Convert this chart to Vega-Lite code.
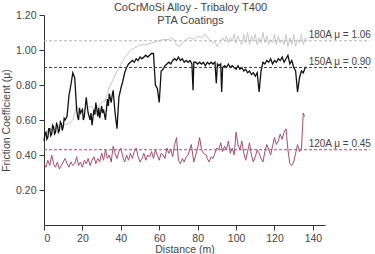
{
"$schema": "https://vega.github.io/schema/vega-lite/v6.json",
"width": 281, "height": 210,
"autosize": {"type": "none"},
"padding": {"left": 44, "top": 15, "right": 50, "bottom": 29},
"background": "white",
"config": {"font": "Liberation Sans", "view": {"stroke": null}},
"title": {"text": ["CoCrMoSi Alloy - Tribaloy T400", "PTA Coatings"], "fontSize": 11, "fontWeight": "normal", "color": "#444", "lineHeight": 13, "offset": -16, "dx": 6, "anchor": "middle"},
"datasets": {
"s120": [
{"d":0,"v":0.35},{"d":1,"v":0.33},{"d":2,"v":0.37},{"d":3,"v":0.34},{"d":4,"v":0.40},{"d":5,"v":0.35},{"d":6,"v":0.33},{"d":7,"v":0.36},{"d":8,"v":0.32},{"d":9,"v":0.34},{"d":10,"v":0.36},{"d":11,"v":0.38},{"d":12,"v":0.35},{"d":13,"v":0.33},{"d":14,"v":0.36},{"d":15,"v":0.34},{"d":16,"v":0.35},{"d":17,"v":0.39},{"d":18,"v":0.34},{"d":19,"v":0.36},{"d":20,"v":0.33},{"d":21,"v":0.37},{"d":22,"v":0.35},{"d":23,"v":0.38},{"d":24,"v":0.34},{"d":25,"v":0.37},{"d":26,"v":0.39},{"d":27,"v":0.35},{"d":28,"v":0.38},{"d":29,"v":0.36},{"d":30,"v":0.41},{"d":31,"v":0.37},{"d":32,"v":0.43},{"d":33,"v":0.38},{"d":34,"v":0.40},{"d":35,"v":0.36},{"d":36,"v":0.45},{"d":37,"v":0.41},{"d":38,"v":0.38},{"d":39,"v":0.42},{"d":40,"v":0.44},{"d":41,"v":0.39},{"d":42,"v":0.36},{"d":43,"v":0.40},{"d":44,"v":0.37},{"d":45,"v":0.41},{"d":46,"v":0.38},{"d":47,"v":0.42},{"d":48,"v":0.44},{"d":49,"v":0.39},{"d":50,"v":0.36},{"d":51,"v":0.38},{"d":52,"v":0.41},{"d":53,"v":0.37},{"d":54,"v":0.40},{"d":55,"v":0.39},{"d":56,"v":0.42},{"d":57,"v":0.38},{"d":58,"v":0.43},{"d":59,"v":0.40},{"d":60,"v":0.37},{"d":61,"v":0.41},{"d":62,"v":0.40},{"d":63,"v":0.38},{"d":64,"v":0.44},{"d":65,"v":0.41},{"d":66,"v":0.43},{"d":67,"v":0.39},{"d":68,"v":0.46},{"d":69,"v":0.50},{"d":70,"v":0.37},{"d":71,"v":0.35},{"d":72,"v":0.38},{"d":73,"v":0.36},{"d":74,"v":0.39},{"d":75,"v":0.40},{"d":76.7,"v":0.46},{"d":78,"v":0.36},{"d":79,"v":0.40},{"d":80,"v":0.44},{"d":81,"v":0.50},{"d":82,"v":0.43},{"d":83,"v":0.41},{"d":84.5,"v":0.40},{"d":85,"v":0.38},{"d":86,"v":0.36},{"d":87,"v":0.39},{"d":88,"v":0.38},{"d":89,"v":0.41},{"d":90,"v":0.44},{"d":91,"v":0.43},{"d":92,"v":0.47},{"d":93,"v":0.42},{"d":94,"v":0.45},{"d":95,"v":0.43},{"d":96,"v":0.48},{"d":97,"v":0.41},{"d":98,"v":0.44},{"d":99,"v":0.40},{"d":100,"v":0.53},{"d":101,"v":0.46},{"d":102,"v":0.43},{"d":103,"v":0.48},{"d":104,"v":0.41},{"d":105,"v":0.37},{"d":106,"v":0.42},{"d":107,"v":0.47},{"d":108,"v":0.40},{"d":109,"v":0.36},{"d":110,"v":0.39},{"d":111,"v":0.43},{"d":112,"v":0.41},{"d":113,"v":0.38},{"d":114,"v":0.36},{"d":115,"v":0.42},{"d":116,"v":0.46},{"d":117,"v":0.43},{"d":118,"v":0.40},{"d":119,"v":0.45},{"d":120,"v":0.50},{"d":121,"v":0.46},{"d":122,"v":0.48},{"d":123,"v":0.52},{"d":124,"v":0.49},{"d":125,"v":0.53},{"d":126,"v":0.55},{"d":127,"v":0.43},{"d":128,"v":0.35},{"d":129,"v":0.34},{"d":130,"v":0.36},{"d":131,"v":0.41},{"d":132,"v":0.46},{"d":133,"v":0.42},{"d":134,"v":0.43},{"d":135,"v":0.64},{"d":135.7,"v":0.62}
],
"s150": [
{"d":0,"v":0.48},{"d":0.5,"v":0.52},{"d":1,"v":0.53},{"d":1.5,"v":0.49},{"d":2,"v":0.50},{"d":2.5,"v":0.55},{"d":3,"v":0.55},{"d":3.5,"v":0.51},{"d":4,"v":0.52},{"d":4.5,"v":0.57},{"d":5,"v":0.56},{"d":5.5,"v":0.52},{"d":6,"v":0.53},{"d":6.5,"v":0.58},{"d":7,"v":0.57},{"d":7.5,"v":0.53},{"d":8,"v":0.54},{"d":8.5,"v":0.59},{"d":9,"v":0.58},{"d":9.5,"v":0.54},{"d":10,"v":0.56},{"d":10.5,"v":0.61},{"d":11,"v":0.60},{"d":12,"v":0.62},{"d":13,"v":0.74},{"d":14,"v":0.80},{"d":15,"v":0.87},{"d":16,"v":0.84},{"d":17,"v":0.66},{"d":17.5,"v":0.62},{"d":18,"v":0.60},{"d":18.5,"v":0.67},{"d":19,"v":0.64},{"d":20,"v":0.66},{"d":20.5,"v":0.60},{"d":21,"v":0.62},{"d":22,"v":0.73},{"d":22.5,"v":0.68},{"d":23,"v":0.64},{"d":24,"v":0.60},{"d":24.5,"v":0.64},{"d":25,"v":0.57},{"d":26,"v":0.66},{"d":26.5,"v":0.63},{"d":27,"v":0.70},{"d":28,"v":0.62},{"d":28.5,"v":0.67},{"d":29,"v":0.61},{"d":30,"v":0.68},{"d":30.5,"v":0.64},{"d":31,"v":0.66},{"d":32,"v":0.60},{"d":32.5,"v":0.66},{"d":33,"v":0.72},{"d":33.5,"v":0.68},{"d":34,"v":0.75},{"d":35,"v":0.70},{"d":35.5,"v":0.74},{"d":36,"v":0.77},{"d":37,"v":0.64},{"d":38,"v":0.55},{"d":39,"v":0.73},{"d":40,"v":0.78},{"d":41,"v":0.82},{"d":42,"v":0.87},{"d":43,"v":0.90},{"d":44,"v":0.92},{"d":45,"v":0.93},{"d":46,"v":0.94},{"d":47,"v":0.93},{"d":48,"v":0.95},{"d":49,"v":0.94},{"d":50,"v":0.96},{"d":51,"v":0.95},{"d":52,"v":0.96},{"d":53,"v":0.97},{"d":54,"v":0.96},{"d":55,"v":0.97},{"d":56,"v":0.98},{"d":57,"v":0.98},{"d":58,"v":0.80},{"d":59,"v":0.78},{"d":60,"v":0.70},{"d":61,"v":0.88},{"d":62,"v":0.89},{"d":63,"v":0.91},{"d":64,"v":0.92},{"d":65,"v":0.93},{"d":66,"v":0.92},{"d":67,"v":0.94},{"d":68,"v":0.95},{"d":69,"v":0.94},{"d":70,"v":0.96},{"d":71,"v":0.94},{"d":72,"v":0.95},{"d":73,"v":0.93},{"d":74,"v":0.94},{"d":75,"v":0.93},{"d":76,"v":0.94},{"d":77,"v":0.92},{"d":77.6,"v":0.77},{"d":78,"v":0.93},{"d":79,"v":0.93},{"d":80,"v":0.92},{"d":81,"v":0.93},{"d":82,"v":0.92},{"d":83,"v":0.93},{"d":84,"v":0.91},{"d":85,"v":0.93},{"d":86,"v":0.92},{"d":87,"v":0.93},{"d":88,"v":0.92},{"d":89,"v":0.93},{"d":89.7,"v":0.81},{"d":90.3,"v":0.92},{"d":91,"v":0.91},{"d":92,"v":0.92},{"d":92.5,"v":0.76},{"d":93,"v":0.90},{"d":94,"v":0.91},{"d":95,"v":0.90},{"d":96,"v":0.92},{"d":97,"v":0.90},{"d":98,"v":0.91},{"d":99,"v":0.90},{"d":100,"v":0.89},{"d":101,"v":0.91},{"d":102,"v":0.89},{"d":103,"v":0.90},{"d":104,"v":0.88},{"d":105,"v":0.89},{"d":106,"v":0.87},{"d":107,"v":0.88},{"d":108,"v":0.86},{"d":109,"v":0.87},{"d":110,"v":0.85},{"d":111,"v":0.87},{"d":112,"v":0.76},{"d":113,"v":0.88},{"d":114,"v":0.93},{"d":115,"v":0.92},{"d":116,"v":0.94},{"d":117,"v":0.93},{"d":118,"v":0.95},{"d":119,"v":0.92},{"d":120,"v":0.94},{"d":121,"v":0.93},{"d":122,"v":0.95},{"d":123,"v":0.94},{"d":124,"v":0.96},{"d":125,"v":0.93},{"d":126,"v":0.95},{"d":127,"v":0.97},{"d":128,"v":0.92},{"d":129,"v":0.94},{"d":130,"v":0.90},{"d":131,"v":0.88},{"d":132,"v":0.76},{"d":133,"v":0.84},{"d":134,"v":0.88},{"d":135,"v":0.87},{"d":136,"v":0.90},{"d":137,"v":0.90}
],
"s180": [
{"d":0,"v":0.50},{"d":2,"v":0.54},{"d":4,"v":0.55},{"d":6,"v":0.55},{"d":8,"v":0.56},{"d":10,"v":0.57},{"d":13,"v":0.58},{"d":15,"v":0.60},{"d":17,"v":0.68},{"d":19,"v":0.64},{"d":21,"v":0.66},{"d":24,"v":0.68},{"d":27,"v":0.66},{"d":30,"v":0.70},{"d":32,"v":0.71},{"d":34,"v":0.79},{"d":36,"v":0.83},{"d":38,"v":0.88},{"d":39.4,"v":0.90},{"d":41,"v":0.94},{"d":43,"v":0.97},{"d":45,"v":1.00},{"d":47,"v":1.01},{"d":50,"v":1.03},{"d":53,"v":1.03},{"d":56,"v":1.04},{"d":59,"v":1.05},{"d":62,"v":1.06},{"d":65,"v":1.06},{"d":67,"v":1.07},{"d":69,"v":1.03},{"d":70.6,"v":1.02},{"d":72,"v":1.04},{"d":74,"v":1.06},{"d":76,"v":1.07},{"d":78,"v":1.06},{"d":80,"v":1.08},{"d":82,"v":1.07},{"d":84,"v":1.09},{"d":86,"v":1.06},{"d":88,"v":1.04},{"d":89,"v":1.05},{"d":90,"v":1.02},{"d":92,"v":1.05},{"d":93,"v":1.07},{"d":94,"v":1.05},{"d":95,"v":1.08},{"d":96,"v":1.04},{"d":97,"v":1.07},{"d":98,"v":1.05},{"d":99,"v":1.09},{"d":100,"v":1.04},{"d":101,"v":1.08},{"d":102,"v":1.05},{"d":103,"v":1.03},{"d":104,"v":1.09},{"d":105,"v":1.04},{"d":106,"v":1.10},{"d":107,"v":1.03},{"d":108,"v":1.08},{"d":109,"v":1.05},{"d":110,"v":1.09},{"d":111,"v":1.03},{"d":112,"v":1.07},{"d":113,"v":1.04},{"d":114,"v":1.10},{"d":115,"v":1.04},{"d":116,"v":1.08},{"d":117,"v":1.03},{"d":118,"v":1.06},{"d":119,"v":1.04},{"d":120,"v":1.09},{"d":121,"v":1.03},{"d":122,"v":1.08},{"d":123,"v":1.04},{"d":124,"v":1.06},{"d":125,"v":1.03},{"d":126,"v":1.09},{"d":127,"v":1.02},{"d":128,"v":1.07},{"d":129,"v":1.03},{"d":130,"v":1.09},{"d":131,"v":1.02},{"d":132,"v":1.06},{"d":133,"v":1.04},{"d":134,"v":1.09},{"d":135,"v":1.03},{"d":136,"v":1.07},{"d":137,"v":1.05}
],
"refs": [
{"s":"180A","v":1.053,"label":"180A  μ = 1.06"},
{"s":"150A","v":0.90,"label":"150A  μ = 0.90"},
{"s":"120A","v":0.43,"label":"120A  μ = 0.45"}
]
},
"layer": [
{
"data": {"name": "s180"},
"mark": {"type": "line", "color": "#c8c8c8", "strokeWidth": 1},
"encoding": {
"x": {"field": "d", "type": "quantitative", "scale": {"domain": [0, 146.3], "nice": false, "zero": false},
"axis": {"values": [0,10,20,30,40,50,60,70,80,90,100,110,120,130,140], "labelExpr": "datum.value % 20 == 0 ? datum.label : ''", "tickSize": {"condition": {"test": "datum.value % 20 == 0", "value": 5}, "value": 3}, "title": "Distance (m)", "grid": false, "domainColor": "#333", "tickColor": "#333", "labelColor": "#444", "labelFontSize": 10.5, "titleFontSize": 10.5, "titleFontWeight": "normal", "titleColor": "#444", "labelPadding": 3, "titlePadding": 1}},
"y": {"field": "v", "type": "quantitative", "scale": {"domain": [0, 1.2], "nice": false},
"axis": {"values": [0.2,0.4,0.6,0.8,1.0,1.2], "format": ".2f", "title": "Friction Coefficient (μ)", "grid": false, "domainColor": "#333", "tickColor": "#333", "tickSize": 5, "labelColor": "#444", "labelFontSize": 10.5, "titleFontSize": 10.5, "titleFontWeight": "normal", "titleColor": "#444", "labelPadding": 3, "titlePadding": 4}}
}
},
{
"data": {"name": "s120"},
"mark": {"type": "line", "color": "#a04f6e", "strokeWidth": 1},
"encoding": {"x": {"field": "d", "type": "quantitative"}, "y": {"field": "v", "type": "quantitative"}}
},
{
"data": {"name": "s150"},
"mark": {"type": "line", "color": "#111111", "strokeWidth": 1.3},
"encoding": {"x": {"field": "d", "type": "quantitative"}, "y": {"field": "v", "type": "quantitative"}}
},
{
"data": {"name": "refs"},
"mark": {"type": "rule", "strokeDash": [3, 2], "strokeWidth": 1},
"encoding": {
"x": {"datum": 0, "type": "quantitative"},
"x2": {"datum": 169.5},
"y": {"field": "v", "type": "quantitative"},
"color": {"field": "s", "type": "nominal", "scale": {"domain": ["120A", "150A", "180A"], "range": ["#a04f6e", "#444444", "#b8b8b8"]}, "legend": null}
}
},
{
"data": {"name": "refs"},
"mark": {"type": "text", "align": "left", "baseline": "middle", "dy": -6, "fontSize": 10, "color": "#444"},
"encoding": {
"x": {"datum": 137.8, "type": "quantitative"},
"y": {"field": "v", "type": "quantitative"},
"text": {"field": "label"}
}
}
]
}
